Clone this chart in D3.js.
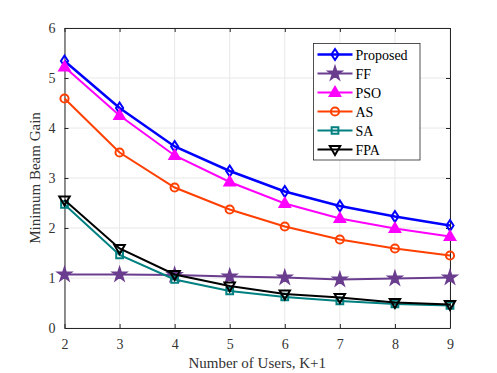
<!DOCTYPE html>
<html>
<head>
<meta charset="utf-8">
<script src="https://cdn.jsdelivr.net/npm/d3@7"></script>
<style>
  body { margin: 0; background: #fff; }
  svg text { font-family: "Liberation Serif", "Times New Roman", "DejaVu Serif", serif !important; }
</style>
</head>
<body>
<div id="chart"></div>
<script>
// data
var users = [2, 3, 4, 5, 6, 7, 8, 9];
var proposed = [5.34, 4.40, 3.63, 3.14, 2.73, 2.44, 2.23, 2.05];
var ff       = [1.07, 1.07, 1.06, 1.03, 1.01, 0.97, 0.99, 1.01];
var pso      = [5.22, 4.25, 3.45, 2.92, 2.49, 2.19, 1.99, 1.83];
var as       = [4.59, 3.51, 2.81, 2.37, 2.03, 1.77, 1.59, 1.45];
var sa       = [2.47, 1.46, 0.97, 0.74, 0.62, 0.54, 0.48, 0.45];
var fpa      = [2.56, 1.59, 1.07, 0.84, 0.68, 0.61, 0.51, 0.47];
var xTicks = [2, 3, 4, 5, 6, 7, 8, 9];
var yTicks = [0, 1, 2, 3, 4, 5, 6];

var series = [
  {name: "Proposed", values: proposed, color: "#0000ff", marker: "diamond", fill: "none", lw: 2.5},
  {name: "FF",       values: ff,       color: "#6a3d8f", marker: "star", fill: "#6a3d8f", lw: 2},
  {name: "PSO",      values: pso,      color: "#ff00ff", marker: "up", fill: "#ff00ff", lw: 2},
  {name: "AS",       values: as,       color: "#ff4000", marker: "circle", fill: "none", lw: 2},
  {name: "SA",       values: sa,       color: "#008080", marker: "square", fill: "none", lw: 2},
  {name: "FPA",      values: fpa,      color: "#000000", marker: "down", fill: "none", lw: 2}
];

var margin = {top: 28, right: 47, bottom: 45, left: 64.5};
var W = 497, H = 373;
var width = W - margin.left - margin.right;
var height = H - margin.top - margin.bottom;

var svg = d3.select("#chart").append("svg")
    .attr("width", W)
    .attr("height", H)
    .attr("font-family", "Liberation Serif, serif")
  .append("g")
    .attr("transform", "translate(" + margin.left + "," + margin.top + ")");

var x = d3.scaleLinear().domain([2, 9]).range([0, width]);
var y = d3.scaleLinear().domain([0, 6]).range([height, 0]);

// grid
svg.append("g").selectAll("line").data(xTicks).enter().append("line")
  .attr("x1", d => x(d)).attr("x2", d => x(d))
  .attr("y1", 0).attr("y2", height)
  .attr("stroke", "#e8e8e8").attr("stroke-width", 1);
svg.append("g").selectAll("line").data(yTicks).enter().append("line")
  .attr("y1", d => y(d)).attr("y2", d => y(d))
  .attr("x1", 0).attr("x2", width)
  .attr("stroke", "#e8e8e8").attr("stroke-width", 1);

// axes (ticks inward, box on)
var axisColor = "#262626";
function styleAxis(g) {
  g.attr("font-family", null).attr("font-size", null);
  g.select(".domain").attr("stroke", axisColor);
  g.selectAll(".tick line").attr("stroke", axisColor);
  g.selectAll(".tick text").attr("fill", "#333")
    .attr("font-family", "Liberation Serif, serif").attr("font-size", 14);
}
svg.append("g").attr("transform", "translate(0," + height + ")")
  .call(d3.axisBottom(x).tickValues(xTicks).tickFormat(d3.format("d")).tickSizeInner(-4).tickSizeOuter(0).tickPadding(11))
  .call(styleAxis);
svg.append("g")
  .call(d3.axisLeft(y).tickValues(yTicks).tickFormat(d3.format("d")).tickSizeInner(-4).tickSizeOuter(0).tickPadding(9))
  .call(styleAxis);
svg.append("g")
  .call(d3.axisTop(x).tickValues(xTicks).tickFormat("").tickSizeInner(-4).tickSizeOuter(0))
  .call(styleAxis);
svg.append("g").attr("transform", "translate(" + width + ",0)")
  .call(d3.axisRight(y).tickValues(yTicks).tickFormat("").tickSizeInner(-4).tickSizeOuter(0))
  .call(styleAxis);

// axis labels
svg.append("text")
  .attr("x", width / 2).attr("y", height + 40)
  .attr("text-anchor", "middle")
  .attr("fill", "#333")
  .attr("font-size", 15)
  .text("Number of Users, K+1");
svg.append("text")
  .attr("transform", "rotate(-90)")
  .attr("x", -height / 2).attr("y", -25)
  .attr("text-anchor", "middle")
  .attr("fill", "#333")
  .attr("font-size", 15)
  .text("Minimum Beam Gain");

// marker shapes
function markerPath(type, s) {
  switch (type) {
    case "diamond": return "M0," + (-s) + "L" + (s * 0.65) + ",0L0," + s + "L" + (-s * 0.65) + ",0Z";
    case "up": return "M0," + (-s) + "L" + (s * 0.95) + "," + (s * 0.65) + "L" + (-s * 0.95) + "," + (s * 0.65) + "Z";
    case "down": return "M0," + s + "L" + (s * 0.95) + "," + (-s * 0.65) + "L" + (-s * 0.95) + "," + (-s * 0.65) + "Z";
    case "circle": return d3.symbol(d3.symbolCircle, Math.PI * s * s * 0.55)();
    case "square": return d3.symbol(d3.symbolSquare, s * s * 1.5)();
    case "star": return d3.symbol(d3.symbolStar, s * s * 1.6)();
  }
}

var line = d3.line().x((d, i) => x(users[i])).y(d => y(d));

series.forEach(function(s) {
  var g = svg.append("g");
  g.append("path").datum(s.values)
    .attr("d", line)
    .attr("fill", "none")
    .attr("stroke", s.color)
    .attr("stroke-width", s.lw);
  g.selectAll("path.m").data(s.values).enter().append("path")
    .attr("class", "m")
    .attr("transform", (d, i) => "translate(" + x(users[i]) + "," + y(d) + ")")
    .attr("d", markerPath(s.marker, 5.5))
    .attr("fill", s.fill === "none" ? "none" : s.fill)
    .attr("stroke", s.color)
    .attr("stroke-width", 2);
});

// legend
var lgX = 313.5 - margin.left, lgY = 43.5 - margin.top;
var legend = svg.append("g").attr("transform", "translate(" + lgX + "," + lgY + ")");
legend.append("rect")
  .attr("width", 106.5).attr("height", 116.5)
  .attr("fill", "#fff").attr("stroke", axisColor).attr("stroke-width", 0.8);
series.forEach(function(s, i) {
  var ly = 11 + i * 19;
  legend.append("line")
    .attr("x1", 4).attr("x2", 39).attr("y1", ly).attr("y2", ly)
    .attr("stroke", s.color).attr("stroke-width", s.lw);
  legend.append("path")
    .attr("transform", "translate(21.5," + ly + ")")
    .attr("d", markerPath(s.marker, 5.5))
    .attr("fill", s.fill === "none" ? "none" : s.fill)
    .attr("stroke", s.color).attr("stroke-width", 2);
  legend.append("text")
    .attr("x", 42).attr("y", ly + 5)
    .attr("fill", "#000")
    .attr("font-size", 14)
    .text(s.name);
});
</script>
</body>
</html>
